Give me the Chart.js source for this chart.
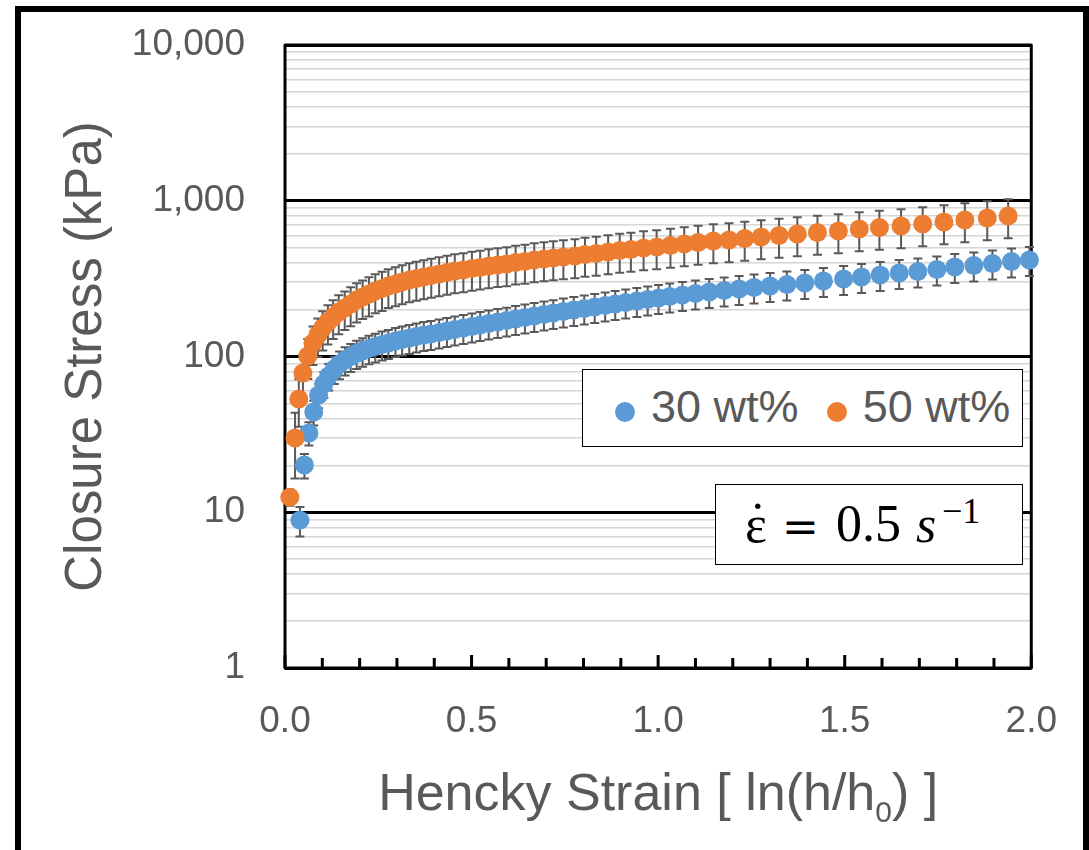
<!DOCTYPE html>
<html>
<head>
<meta charset="utf-8">
<title>Closure Stress vs Hencky Strain</title>
<script src="https://cdn.jsdelivr.net/npm/chart.js@4.4.1/dist/chart.umd.min.js"></script>
<style>
  html, body { margin: 0; padding: 0; background: #fff; }
  #wrap { position: relative; width: 1089px; height: 850px; overflow: hidden; }
  #chart { position: absolute; left: 0; top: 0; }
  .box { position: absolute; background: #fff; border: 1.5px solid #000; box-sizing: border-box; }
  .leg-dot { position: absolute; width: 20px; height: 20px; border-radius: 50%; }
  .leg-txt { position: absolute; font-family: 'Liberation Sans', Arial, sans-serif; font-size: 45px;
             line-height: 45px; color: #595959; white-space: nowrap; }
  .math { position: absolute; font-family: 'Liberation Serif', 'Times New Roman', serif; color: #000;
          white-space: nowrap; line-height: 1; }
</style>
</head>
<body>
<div id="wrap">
  <canvas id="chart" width="1089" height="850"></canvas>
  <div id="legend" class="box" style="left:582px; top:369px; width:441px; height:78px;"></div>
  <div id="rate" class="box" style="left:715px; top:484px; width:308px; height:81px;"></div>
  <span class="math" style="left:745px; top:499px; font-size:52px;">ε</span>
  <span class="math" style="left:749px; top:496px; font-size:52px;">˙</span>
  <span class="math" style="left:782px; top:504.5px; font-size:44px; font-family:'DejaVu Serif', serif;">=</span>
  <span class="math" style="left:836px; top:498px; font-size:52px;">0.5</span>
  <span class="math" style="left:916px; top:499px; font-size:52px; font-style:italic;">s</span>
  <span class="math" style="left:942px; top:492.5px; font-size:36px;">−1</span>
</div>
<script>
// Hencky strain (ln(h/h0)) and closure stress (kPa) for the 30 wt% samples
const strain30 = [0.040, 0.052, 0.064, 0.077, 0.090, 0.104, 0.117, 0.132, 0.146, 0.161,
                  0.176, 0.192, 0.208, 0.225, 0.242, 0.260, 0.277, 0.296, 0.314, 0.333,
                  0.352, 0.372, 0.391, 0.413, 0.434, 0.455, 0.478, 0.501, 0.523, 0.546,
                  0.570, 0.594, 0.618, 0.643, 0.668, 0.694, 0.719, 0.746, 0.774, 0.802,
                  0.830, 0.858, 0.885, 0.913, 0.943, 0.972, 1.001, 1.031, 1.065, 1.100,
                  1.137, 1.177, 1.217, 1.257, 1.300, 1.345, 1.393, 1.443, 1.497, 1.545,
                  1.595, 1.646, 1.696, 1.747, 1.795, 1.846, 1.896, 1.947, 1.995];
const stress30 = [8.9, 20.1, 32.3, 44.0, 56.6, 66.6, 74.9, 83.1, 89.5, 95.0,
                  100.0, 104.5, 108.5, 112.6, 115.9, 119.4, 122.1, 125.8, 128.6, 131.5,
                  134.4, 137.4, 139.5, 142.6, 145.8, 149.1, 152.4, 155.8, 159.3, 162.9,
                  166.5, 170.2, 174.1, 178.0, 182.0, 186.1, 190.2, 194.5, 198.9, 203.3,
                  207.9, 212.6, 217.3, 222.2, 227.2, 232.3, 237.5, 242.8, 248.3, 253.8,
                  259.5, 265.3, 271.3, 277.3, 283.6, 290.0, 296.5, 305.4, 314.5, 323.9,
                  333.7, 343.7, 351.4, 361.9, 375.5, 384.0, 395.5, 407.4, 416.5];
const err30 = [1.9, 3.6, 5.5, 8.0, 10.0, 12.5, 14.5, 16.5, 18.0, 19.5,
               20.5, 21.5, 22.5, 23.5, 24.3, 25.1, 25.6, 26.4, 27.0, 27.6,
               28.2, 28.9, 29.3, 29.9, 30.6, 31.3, 32.0, 32.7, 33.5, 34.2,
               35.0, 35.7, 36.6, 37.4, 38.2, 39.1, 39.9, 40.8, 41.8, 42.7,
               43.7, 44.6, 45.6, 46.7, 47.7, 48.8, 49.9, 51.0, 52.1, 53.3,
               54.5, 55.7, 57.0, 58.2, 59.6, 60.9, 62.3, 64.1, 66.0, 68.0,
               70.1, 72.2, 73.8, 76.0, 78.9, 80.6, 83.1, 85.6, 87.5];

// Same quantities for the 50 wt% samples
const strain50 = [0.013, 0.027, 0.037, 0.048, 0.061, 0.075, 0.088, 0.101, 0.115, 0.129,
                  0.144, 0.160, 0.176, 0.192, 0.208, 0.225, 0.242, 0.260, 0.277, 0.296,
                  0.314, 0.333, 0.352, 0.372, 0.392, 0.413, 0.434, 0.455, 0.478, 0.501,
                  0.523, 0.546, 0.570, 0.594, 0.618, 0.643, 0.668, 0.694, 0.719, 0.746,
                  0.777, 0.804, 0.834, 0.866, 0.897, 0.927, 0.961, 0.996, 1.033, 1.070,
                  1.107, 1.148, 1.190, 1.232, 1.276, 1.324, 1.373, 1.427, 1.483, 1.539,
                  1.593, 1.651, 1.709, 1.766, 1.822, 1.882, 1.938];
const stress50 = [12.5, 30.0, 53.4, 78.4, 100.7, 122.1, 137.4, 152.4, 166.5, 179.3,
                  193.1, 204.8, 217.3, 230.6, 241.0, 251.9, 263.4, 273.3, 283.6, 292.2,
                  300.9, 309.9, 316.8, 323.9, 331.2, 338.6, 346.2, 354.0, 359.3, 367.3,
                  372.8, 381.2, 386.9, 392.6, 401.4, 407.4, 416.5, 422.7, 429.0, 435.4,
                  441.9, 451.8, 458.5, 468.8, 479.3, 486.4, 497.3, 504.7, 515.9, 527.5,
                  539.3, 551.4, 559.8, 572.3, 585.2, 598.3, 611.7, 625.4, 639.4, 658.6,
                  673.4, 688.5, 709.1, 730.4, 752.3, 774.9, 798.2];
const err50 = [1.5, 13.5, 18, 24, 29, 34, 38, 43, 47, 50,
               54, 57, 61, 65, 67, 71, 74, 77, 79, 82,
               84, 87, 89, 91, 93, 95, 97, 99, 101, 103,
               104, 107, 108, 110, 112, 114, 117, 118, 120, 122,
               124, 127, 128, 131, 134, 136, 139, 141, 144, 148,
               151, 154, 157, 160, 164, 168, 171, 175, 179, 184,
               189, 193, 199, 205, 211, 217, 223];

// Axis tick values
const stressDecades = [1, 10, 100, 1000, 10000];
const strainMajor = [0, 0.5, 1.0, 1.5, 2.0];
const strainMinor = [0.1, 0.2, 0.3, 0.4, 0.6, 0.7, 0.8, 0.9, 1.1, 1.2, 1.3, 1.4, 1.6, 1.7, 1.8, 1.9];

const FONT = "'Liberation Sans', Arial, sans-serif";
const GREY = '#595959';
const AREA = { left: 285, top: 45, right: 1036 };

const toPoints = (xs, ys) => xs.map((x, i) => ({ x, y: ys[i] }));
const isDecade = v => stressDecades.some(d => Math.abs(d - v) < 1e-9 * d);

// Plot-area frame, inward strain tick marks and the outer frame
const plotFrame = {
  id: 'plotFrame',
  beforeDatasetsDraw(chart) {
    const { ctx, chartArea: a, scales: { x } } = chart;
    ctx.save();
    ctx.strokeStyle = '#000';
    ctx.lineWidth = 3;
    ctx.lineJoin = 'round';
    ctx.strokeRect(a.left, a.top, a.right - a.left, a.bottom - a.top);
    const mark = (v, len) => {
      const px = x.getPixelForValue(v);
      ctx.beginPath();
      ctx.moveTo(px, a.bottom);
      ctx.lineTo(px, a.bottom - len);
      ctx.stroke();
    };
    strainMinor.forEach(v => mark(v, 10));
    strainMajor.forEach(v => mark(v, 13));
    ctx.restore();
  },
  afterDraw(chart) {
    const { ctx, chartArea: a } = chart;
    ctx.save();
    ctx.strokeStyle = '#000';
    ctx.lineWidth = 6;
    ctx.strokeRect(18, 9, 1068, 900);

    // x-axis title with a true subscript
    const big = '52px ' + FONT, small = '30px ' + FONT;
    const parts = [
      { t: 'Hencky Strain [ ln(h/h', f: big, dy: 0 },
      { t: '0', f: small, dy: 12 },
      { t: ') ]', f: big, dy: 0 }
    ];
    let total = 0;
    parts.forEach(p => { ctx.font = p.f; p.w = ctx.measureText(p.t).width; total += p.w; });
    let px = (a.left + a.right) / 2 - total / 2;
    const base = a.bottom + 142;
    ctx.fillStyle = GREY;
    ctx.textBaseline = 'alphabetic';
    ctx.textAlign = 'left';
    parts.forEach(p => { ctx.font = p.f; ctx.fillText(p.t, px, base + p.dy); px += p.w; });
    ctx.restore();
  }
};

// Vertical error bars with caps, drawn beneath the markers
const errorBars = {
  id: 'errorBars',
  beforeDatasetsDraw(chart) {
    const { ctx, scales: { x, y } } = chart;
    ctx.save();
    ctx.strokeStyle = GREY;
    ctx.lineWidth = 2;
    chart.data.datasets.forEach(ds => {
      ds.data.forEach((p, i) => {
        const e = ds.errors[i];
        const px = x.getPixelForValue(p.x);
        const top = y.getPixelForValue(p.y + e);
        const bot = y.getPixelForValue(Math.max(p.y - e, 1e-3));
        ctx.beginPath();
        ctx.moveTo(px, top); ctx.lineTo(px, bot);
        ctx.moveTo(px - 4.5, top); ctx.lineTo(px + 4.5, top);
        ctx.moveTo(px - 4.5, bot); ctx.lineTo(px + 4.5, bot);
        ctx.stroke();
      });
    });
    ctx.restore();
  }
};

const chart = new Chart(document.getElementById('chart'), {
  type: 'scatter',
  data: {
    datasets: [
      {
        label: '30 wt%',
        data: toPoints(strain30, stress30),
        errors: err30,
        backgroundColor: '#5B9BD5',
        borderColor: '#5B9BD5',
        borderWidth: 0,
        pointRadius: 9.5,
        pointHoverRadius: 9.5,
        clip: false,
        order: 1
      },
      {
        label: '50 wt%',
        data: toPoints(strain50, stress50),
        errors: err50,
        backgroundColor: '#ED7D31',
        borderColor: '#ED7D31',
        borderWidth: 0,
        pointRadius: 9.5,
        pointHoverRadius: 9.5,
        clip: false,
        order: 0
      }
    ]
  },
  options: {
    responsive: false,
    animation: false,
    events: [],
    devicePixelRatio: 1,
    layout: { padding: { left: 22, top: 45, right: 53, bottom: 0 } },
    plugins: { legend: { display: false }, tooltip: { enabled: false } },
    scales: {
      x: {
        type: 'linear',
        min: 0,
        max: 2,
        afterFit: s => { s.height = 182; },
        grid: { display: false, drawTicks: false },
        border: { display: false },
        ticks: {
          stepSize: 0.5,
          autoSkip: false,
          minRotation: 0,
          maxRotation: 0,
          padding: 32,
          color: GREY,
          font: { family: FONT, size: 37 },
          callback: v => strainMajor.some(s => Math.abs(s - v) < 1e-6) ? Number(v).toFixed(1) : ''
        },
        title: { display: false }
      },
      y: {
        type: 'logarithmic',
        position: 'left',
        min: 1,
        max: 10000,
        afterFit: s => { s.width = 263; },
        afterBuildTicks: s => {
          s.ticks = s.ticks.filter(t => {
            const m = t.value / Math.pow(10, Math.floor(Math.log10(t.value) + 1e-9));
            return Math.abs(m - Math.round(m)) < 1e-6;
          });
        },
        grid: {
          drawTicks: true,
          tickLength: 37,
          tickColor: 'rgba(0,0,0,0)',
          color: c => isDecade(c.tick.value) ? '#000' : '#D6D6D6',
          lineWidth: c => isDecade(c.tick.value) ? 3 : 1.5
        },
        border: { display: false },
        ticks: {
          autoSkip: false,
          padding: 3,
          color: GREY,
          font: { family: FONT, size: 37 },
          callback: v => isDecade(v) ? Number(v).toLocaleString('en-US') : ''
        },
        title: {
          display: true,
          text: 'Closure Stress (kPa)',
          color: GREY,
          font: { family: FONT, size: 51 },
          padding: { top: 34, bottom: 0 }
        }
      }
    }
  },
  plugins: [plotFrame, errorBars]
});

// Nudge the layout padding so the plot area lands on the intended box
for (let k = 0; k < 3; k++) {
  const a = chart.chartArea;
  const p = chart.options.layout.padding;
  const dt = AREA.top - a.top, dl = AREA.left - a.left, dr = a.right - AREA.right;
  if (Math.abs(dt) < 0.5 && Math.abs(dl) < 0.5 && Math.abs(dr) < 0.5) break;
  p.top += dt; p.left += dl; p.right += dr;
  chart.update();
}

// Legend entries built from the datasets
const legendSlots = [{ dot: 615, text: 651 }, { dot: 826.7, text: 862.7 }];
const wrap = document.getElementById('wrap');
chart.data.datasets.forEach((ds, i) => {
  const slot = legendSlots[i];
  const dot = document.createElement('div');
  dot.className = 'leg-dot';
  dot.style.left = slot.dot + 'px';
  dot.style.top = '401.7px';
  dot.style.background = ds.backgroundColor;
  wrap.appendChild(dot);
  const txt = document.createElement('span');
  txt.className = 'leg-txt';
  txt.style.left = slot.text + 'px';
  txt.style.top = '383.6px';
  txt.textContent = ds.label;
  wrap.appendChild(txt);
});
</script>
</body>
</html>
